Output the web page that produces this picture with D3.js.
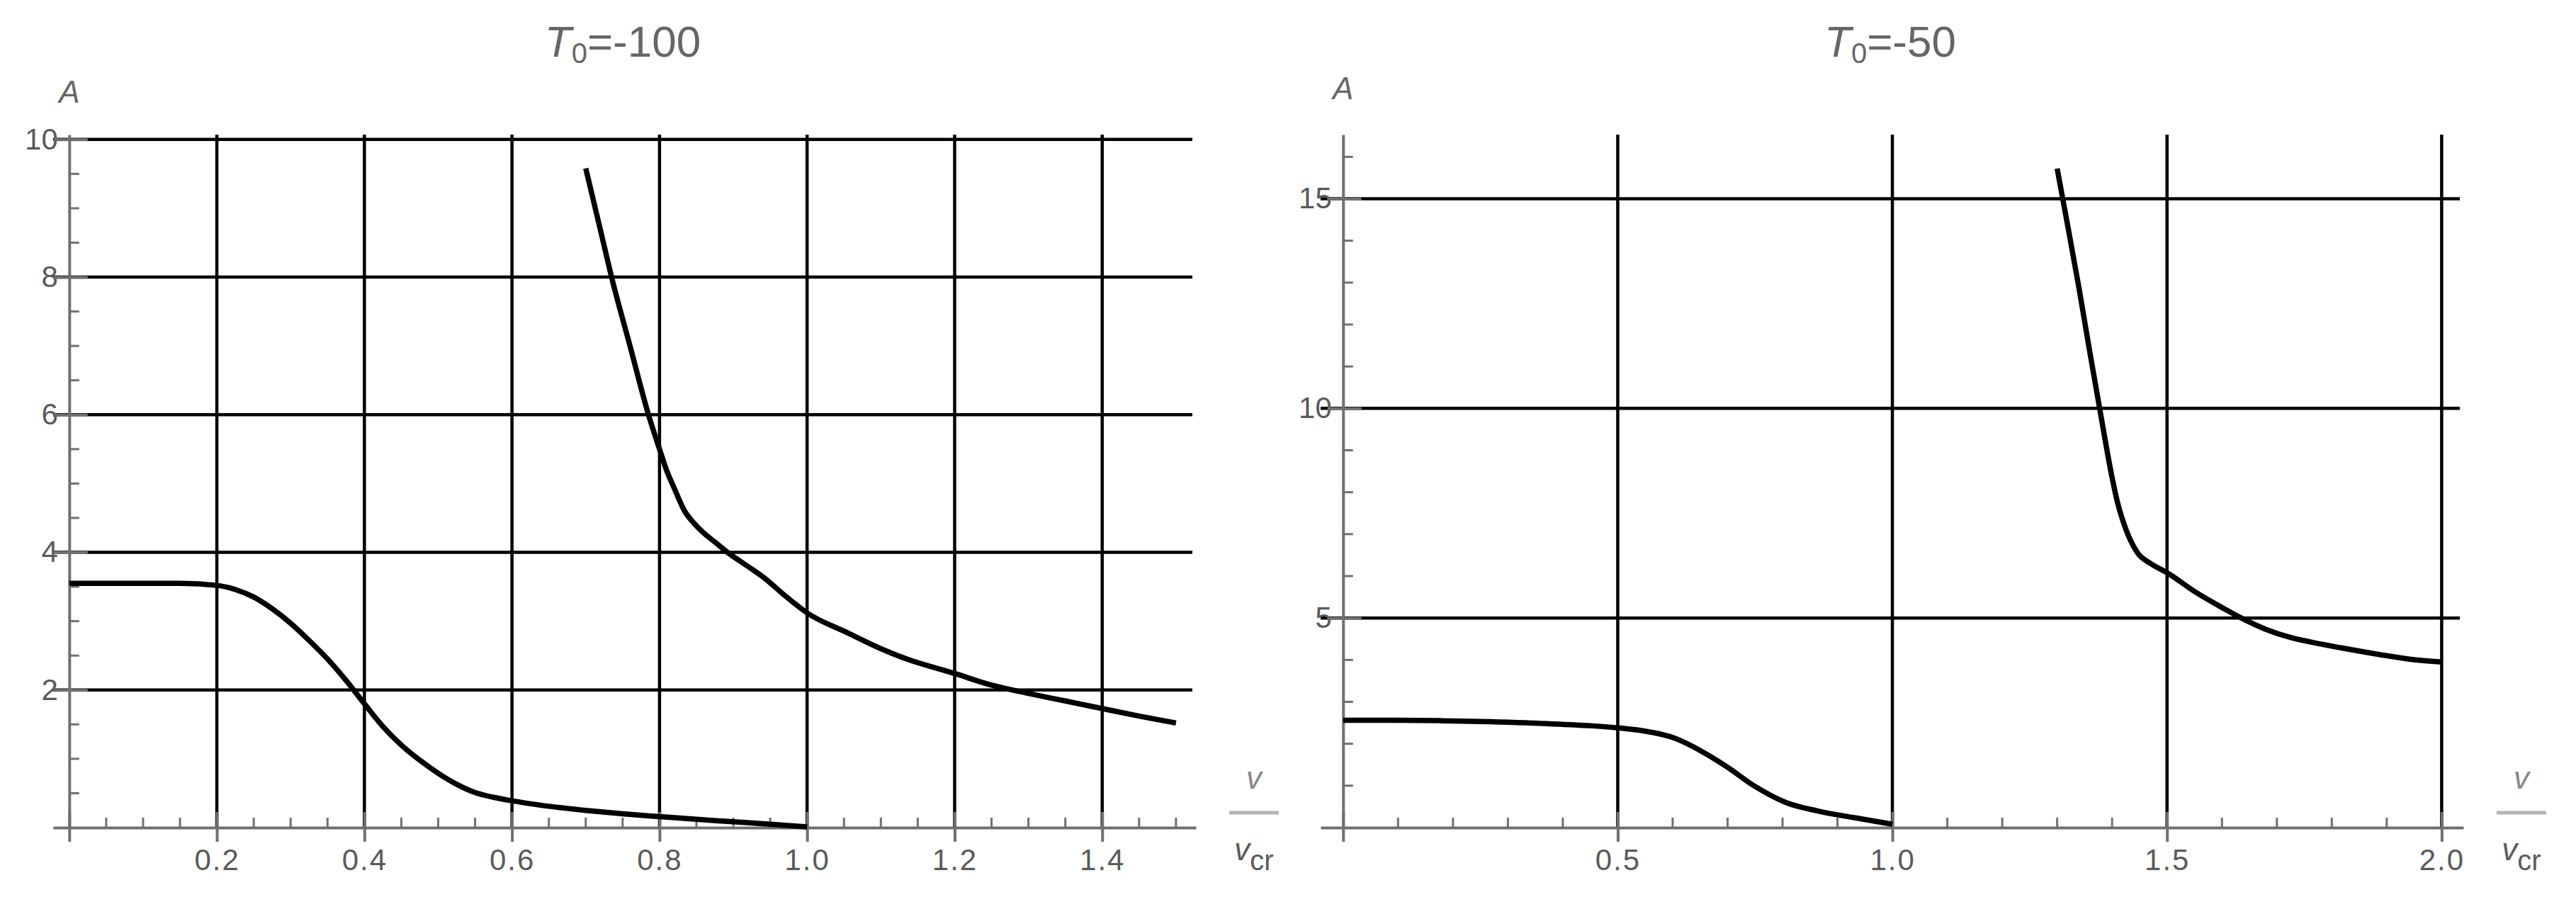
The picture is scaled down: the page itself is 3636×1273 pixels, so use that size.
<!DOCTYPE html>
<html>
<head>
<meta charset="utf-8">
<script src="https://cdn.jsdelivr.net/npm/d3@7"></script>
<style>
  body { margin: 0; background: #fff; overflow: hidden; }
  svg text { font-family: "Liberation Sans", Arial, sans-serif; }
</style>
</head>
<body>
<svg id="chart"></svg>
<script>
const width = 3636;
const height = 1273;
const yBottom = 1168;
const yTop = 190;
const axisColor = "#707070";
const textColor = "#5a5a5a";

// T0 = -100 : lower branch
const leftLowV = [0, 0.05, 0.1, 0.15, 0.2, 0.225, 0.25, 0.275, 0.3, 0.325, 0.35, 0.375, 0.4, 0.425, 0.45, 0.475, 0.5, 0.525, 0.55, 0.575, 0.6, 0.65, 0.7, 0.75, 0.8, 0.85, 0.9, 0.95, 1.0];
const leftLowA = [3.55, 3.55, 3.55, 3.55, 3.52, 3.46, 3.35, 3.18, 2.97, 2.72, 2.45, 2.14, 1.8, 1.47, 1.2, 0.98, 0.79, 0.63, 0.51, 0.44, 0.39, 0.31, 0.25, 0.2, 0.16, 0.12, 0.085, 0.05, 0.01];
// T0 = -100 : upper branch
const leftHighV = [0.7, 0.72, 0.735, 0.76, 0.785, 0.8, 0.81, 0.82, 0.834, 0.847, 0.86, 0.875, 0.892, 0.915, 0.943, 0.97, 1.0, 1.055, 1.1, 1.135, 1.2, 1.25, 1.3, 1.35, 1.4, 1.45, 1.5];
const leftHighA = [9.58, 8.68, 8.0, 7.0, 6.0, 5.5, 5.18, 4.93, 4.6, 4.42, 4.28, 4.15, 4.0, 3.83, 3.62, 3.37, 3.12, 2.83, 2.6, 2.45, 2.24, 2.07, 1.95, 1.84, 1.73, 1.62, 1.52];

// T0 = -50 : lower branch
const rightLowV = [0, 0.1, 0.18, 0.25, 0.37, 0.45, 0.5, 0.559, 0.6, 0.617, 0.658, 0.7, 0.749, 0.806, 0.863, 0.929, 1.0];
const rightLowA = [2.56, 2.56, 2.55, 2.53, 2.48, 2.43, 2.38, 2.28, 2.15, 2.06, 1.78, 1.44, 0.99, 0.6, 0.4, 0.24, 0.08];
// T0 = -50 : upper branch
const rightHighV = [1.3, 1.32, 1.34, 1.36, 1.38, 1.4, 1.41, 1.425, 1.446, 1.47, 1.5, 1.554, 1.6, 1.635, 1.68, 1.726, 1.78, 1.833, 1.89, 1.941, 2.0];
const rightHighA = [15.72, 14.3, 12.85, 11.3, 9.8, 8.35, 7.75, 7.12, 6.56, 6.3, 6.08, 5.6, 5.25, 5.0, 4.73, 4.53, 4.38, 4.25, 4.12, 4.02, 3.95];

// ticks
const leftXTicks = [0.2, 0.4, 0.6, 0.8, 1.0, 1.2, 1.4];
const leftYTicks = [2, 4, 6, 8, 10];
const rightXTicks = [0.5, 1.0, 1.5, 2.0];
const rightYTicks = [5, 10, 15];

const titles = ["-100", "-50"];

const panels = [
    {
        title: titles[0],
        xDomain: [-0.0219, 1.527], xRange: [75, 1688], yMax: 10.07,
        xTicks: leftXTicks, yTicks: leftYTicks,
        xMinorStep: 0.05, xMinorMax: 1.5, yMinorStep: 0.5, yMinorMax: 10,
        aY: 145,
        curves: [[leftLowV, leftLowA], [leftHighV, leftHighA]]
    },
    {
        title: titles[1],
        xDomain: [-0.041, 2.0395], xRange: [1864, 3477], yMax: 16.53,
        xTicks: rightXTicks, yTicks: rightYTicks,
        xMinorStep: 0.1, xMinorMax: 2.0, yMinorStep: 1, yMinorMax: 16,
        aY: 140,
        curves: [[rightLowV, rightLowA], [rightHighV, rightHighA]]
    }
];

const svg = d3.select("#chart")
    .attr("width", width)
    .attr("height", height);

svg.append("rect")
    .attr("width", width)
    .attr("height", height)
    .attr("fill", "#fff");

function drawPanel(p) {
    const x = d3.scaleLinear().domain(p.xDomain).range(p.xRange);
    const y = d3.scaleLinear().domain([0, p.yMax]).range([yBottom, yTop]);
    const g = svg.append("g");
    const x0 = x(0);

    // grid
    g.append("g").selectAll("line")
        .data(p.yTicks)
        .join("line")
        .attr("x1", p.xRange[0])
        .attr("x2", p.xRange[1] - 5)
        .attr("y1", d => y(d))
        .attr("y2", d => y(d))
        .attr("stroke", "#000")
        .attr("stroke-width", 4.5);
    g.append("g").selectAll("line")
        .data(p.xTicks)
        .join("line")
        .attr("x1", d => x(d))
        .attr("x2", d => x(d))
        .attr("y1", yTop)
        .attr("y2", yBottom)
        .attr("stroke", "#000")
        .attr("stroke-width", 4.5);

    // minor ticks
    const xMinor = d3.range(p.xMinorStep, p.xMinorMax + 1e-9, p.xMinorStep)
        .filter(v => !p.xTicks.some(t => Math.abs(t - v) < 1e-6));
    const yMinor = d3.range(p.yMinorStep, p.yMinorMax + 1e-9, p.yMinorStep)
        .filter(v => !p.yTicks.some(t => Math.abs(t - v) < 1e-6));
    g.append("g").selectAll("line")
        .data(xMinor)
        .join("line")
        .attr("x1", d => x(d))
        .attr("x2", d => x(d))
        .attr("y1", yBottom)
        .attr("y2", yBottom - 14)
        .attr("stroke", axisColor)
        .attr("stroke-width", 3);
    g.append("g").selectAll("line")
        .data(yMinor)
        .join("line")
        .attr("x1", x0)
        .attr("x2", x0 + 14)
        .attr("y1", d => y(d))
        .attr("y2", d => y(d))
        .attr("stroke", axisColor)
        .attr("stroke-width", 3);

    // x axis
    const xAxis = g.append("g")
        .attr("transform", `translate(0,${yBottom})`)
        .call(d3.axisBottom(x)
            .tickValues([0].concat(p.xTicks))
            .tickSize(20)
            .tickPadding(10)
            .tickSizeOuter(0)
            .tickFormat(d => d === 0 ? "" : d3.format(".1f")(d)));
    xAxis.attr("font-size", 42).attr("font-family", null).attr("color", axisColor);
    xAxis.select(".domain").attr("stroke-width", 4);
    xAxis.selectAll(".tick line").attr("stroke-width", 4);
    xAxis.selectAll(".tick").append("line")
        .attr("y2", -22)
        .attr("stroke", axisColor)
        .attr("stroke-width", 4);
    xAxis.selectAll(".tick text").attr("fill", textColor).attr("letter-spacing", 2);

    // y axis
    const yAxis = g.append("g")
        .attr("transform", `translate(${x0},0)`)
        .call(d3.axisLeft(y)
            .tickValues(p.yTicks)
            .tickSize(0)
            .tickPadding(16)
            .tickSizeOuter(0));
    yAxis.attr("font-size", 42).attr("font-family", null).attr("color", axisColor);
    yAxis.select(".domain").attr("stroke-width", 4);
    yAxis.selectAll(".tick").append("line")
        .attr("x1", -22)
        .attr("x2", 26)
        .attr("stroke", axisColor)
        .attr("stroke-width", 4);
    yAxis.selectAll(".tick text").attr("fill", textColor);

    // curves
    const line = d3.line()
        .x(d => x(d[0]))
        .y(d => y(d[1]))
        .curve(d3.curveMonotoneX);
    p.curves.forEach(c => {
        const pts = c[0].map((v, i) => [v, c[1][i]]);
        g.append("path")
            .datum(pts)
            .attr("d", line)
            .attr("fill", "none")
            .attr("stroke", "#000")
            .attr("stroke-width", 7.5)
            .attr("stroke-linejoin", "round");
    });

    // axis labels
    g.append("text")
        .attr("x", x0)
        .attr("y", p.aY)
        .attr("text-anchor", "middle")
        .attr("font-size", 44)
        .attr("font-style", "italic")
        .attr("fill", "#666")
        .text("A");

    const cx = p.xRange[1] + 82;
    g.append("text")
        .attr("x", cx)
        .attr("y", 1113)
        .attr("text-anchor", "middle")
        .attr("font-size", 44)
        .attr("font-style", "italic")
        .attr("fill", "#888")
        .text("v");
    g.append("line")
        .attr("x1", cx - 35)
        .attr("x2", cx + 35)
        .attr("y1", 1147)
        .attr("y2", 1147)
        .attr("stroke", "#b4b4b4")
        .attr("stroke-width", 5);
    const vcr = g.append("text")
        .attr("x", cx)
        .attr("y", 1214)
        .attr("text-anchor", "middle")
        .attr("font-size", 44)
        .attr("fill", textColor);
    vcr.append("tspan").attr("font-style", "italic").text("v");
    vcr.append("tspan").attr("dy", 14).attr("font-size", 40).text("cr");

    // title
    const title = g.append("text")
        .attr("x", (p.xRange[0] + p.xRange[1] - 5) / 2)
        .attr("y", 80)
        .attr("text-anchor", "middle")
        .attr("font-size", 62)
        .attr("fill", "#666");
    title.append("tspan").attr("font-style", "italic").text("T");
    title.append("tspan").attr("font-size", 40).attr("dy", 9).text("0");
    title.append("tspan").attr("dy", -9).text("=" + p.title);
}

panels.forEach(drawPanel);
</script>
</body>
</html>
